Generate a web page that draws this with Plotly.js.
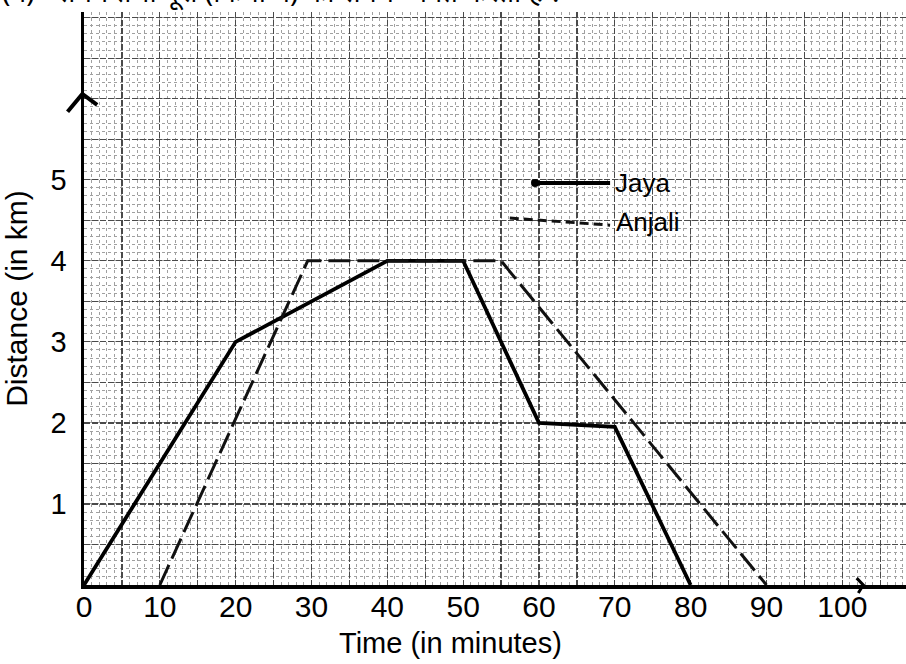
<!DOCTYPE html>
<html>
<head>
<meta charset="utf-8">
<script src="https://cdn.plot.ly/plotly-3.0.1.min.js"></script>
<style>
  html, body { margin: 0; padding: 0; background: #ffffff; }
  #chart { width: 906px; height: 664px; }
</style>
</head>
<body>
<div id="chart"></div>
<script>
// ---- data ----
const jayaTime     = [0, 20, 40, 50, 60, 70, 80];
const jayaDist     = [0, 3, 4, 4, 2, 1.95, 0];
const anjaliTime   = [10, 29.5, 55, 90];
const anjaliDist   = [0, 4, 4, 0];

const xTickVals  = [0, 10, 20, 30, 40, 50, 60, 70, 80, 90, 100];
const yTickVals  = [1, 2, 3, 4, 5];
const seriesNames = ["Jaya", "Anjali"];

const titleText = "(ग)   समय तथा दूरी (किमी में) का संबंध व्यक्त करता है ?";
const xTitle = "Time (in minutes)";
const yTitle = "Distance (in km)";

// grid positions every 5 min / 0.5 km, labels only on named ticks
const xGrid = []; for (let v = 0; v <= 105; v += 5) xGrid.push(v);
const yGrid = []; for (let v = 0; v <= 7; v += 0.5) yGrid.push(v);
const xText = xGrid.map(v => xTickVals.includes(v) ? String(v) : "");
const yText = yGrid.map(v => yTickVals.includes(v) ? String(v) : "");

const FONT = "'Liberation Sans', Arial, Helvetica, sans-serif";

const traces = [
  { x: jayaTime, y: jayaDist, name: seriesNames[0], mode: "lines",
    line: { color: "#000", width: 3.8 }, showlegend: false, hoverinfo: "skip" },
  { x: anjaliTime, y: anjaliDist, name: seriesNames[1], mode: "lines",
    line: { color: "#111", width: 3, dash: "22px,7px" }, showlegend: false, hoverinfo: "skip" }
];

// legend drawn by hand, in paper coordinates
const shapes = [
  { type: "line", xref: "paper", yref: "paper", x0: 0.5487, y0: 0.7016, x1: 0.640, y1: 0.7016,
    line: { color: "#000", width: 4 } },
  { type: "circle", xref: "paper", yref: "paper", xsizemode: "pixel", ysizemode: "pixel",
    xanchor: 0.5487, yanchor: 0.7016, x0: -4, x1: 4, y0: -4, y1: 4,
    fillcolor: "#000", line: { color: "#000", width: 0 } },
  { type: "line", xref: "paper", yref: "paper", x0: 0.518, y0: 0.6405, x1: 0.640, y1: 0.628,
    line: { color: "#111", width: 3, dash: "9px,5px" } },
  // y-axis arrowhead
  { type: "path", xref: "paper", yref: "paper",
    path: "M -0.020,0.826 L -0.002,0.857 L 0.016,0.838",
    line: { color: "#000", width: 4 } },
  // x-axis arrowhead
  { type: "path", xref: "paper", yref: "paper",
    path: "M 0.940,0.012 L 0.948,0.000 L 0.942,-0.014",
    line: { color: "#000", width: 3 } }
];

const annotations = [
  { text: seriesNames[0], xref: "paper", yref: "paper", x: 0.643, y: 0.7016,
    xanchor: "left", yanchor: "middle", showarrow: false,
    font: { family: FONT, size: 26, color: "#000" } },
  { text: seriesNames[1], xref: "paper", yref: "paper", x: 0.645, y: 0.6335,
    xanchor: "left", yanchor: "middle", showarrow: false,
    font: { family: FONT, size: 26, color: "#000" } },
  { text: xTitle, xref: "paper", yref: "paper", x: 0.446, y: -0.070,
    xanchor: "center", yanchor: "top", showarrow: false,
    font: { family: FONT, size: 29, color: "#000" } },
  { text: titleText, xref: "paper", yref: "paper", x: -0.102, y: 1.035,
    xanchor: "left", yanchor: "middle", showarrow: false,
    font: { family: "'Noto Sans', 'Noto Sans Devanagari', sans-serif", size: 28, color: "#000" } }
];

const layout = {
  width: 906, height: 664,
  margin: { l: 84, r: 0, t: 12, b: 79 },
  paper_bgcolor: "#ffffff", plot_bgcolor: "#ffffff",
  showlegend: false,
  font: { family: FONT, color: "#000" },
  xaxis: {
    range: [0, 108.4], tickmode: "array", tickvals: xGrid, ticktext: xText,
    showline: true, linecolor: "#000", linewidth: 3.5, zeroline: false,
    showgrid: true, gridcolor: "#4a4a4a", gridwidth: 1.2, griddash: "6px,2px",
    ticks: "", ticklabelstandoff: -8,
    tickfont: { family: FONT, size: 30, color: "#000" },
    minor: { dtick: 1, tick0: 0, showgrid: true, gridcolor: "#a0a0a0", gridwidth: 1, griddash: "dot", ticks: "" }
  },
  yaxis: {
    range: [0, 7.07], tickmode: "array", tickvals: yGrid, ticktext: yText,
    showline: true, linecolor: "#000", linewidth: 3.5, zeroline: false,
    showgrid: true, gridcolor: "#4a4a4a", gridwidth: 1.2, griddash: "6px,2px",
    ticks: "", ticklabelstandoff: 8,
    tickfont: { family: FONT, size: 29, color: "#000" },
    title: { text: yTitle, font: { family: FONT, size: 30, color: "#000" }, standoff: 20 },
    minor: { dtick: 0.1, tick0: 0, showgrid: true, gridcolor: "#a0a0a0", gridwidth: 1, griddash: "dot", ticks: "" }
  },
  shapes: shapes,
  annotations: annotations
};

Plotly.newPlot("chart", traces, layout, { displayModeBar: false, staticPlot: true });
</script>
</body>
</html>
